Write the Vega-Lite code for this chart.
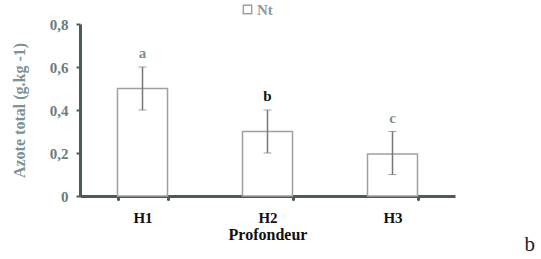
{
  "$schema": "https://vega.github.io/schema/vega-lite/v6.json",
  "autosize": "none",
  "width": 375,
  "height": 172,
  "padding": {"left": 80, "top": 24, "right": 86, "bottom": 63},
  "background": "white",
  "config": {"view": {"stroke": null}, "font": "serif"},
  "title": {"text": "b", "orient": "bottom", "anchor": "end", "frame": "group", "dx": 80, "offset": -8, "font": "serif", "fontSize": 21, "fontWeight": "normal", "color": "#222"},
  "data": {"values": [
    {"h": "H1", "nt": 0.5, "lo": 0.4, "hi": 0.6, "lettre": "a", "serie": "Nt"},
    {"h": "H2", "nt": 0.3, "lo": 0.2, "hi": 0.4, "lettre": "b", "serie": "Nt"},
    {"h": "H3", "nt": 0.195, "lo": 0.1, "hi": 0.3, "lettre": "c", "serie": "Nt"}
  ]},
  "encoding": {
    "x": {"field": "h", "type": "nominal", "scale": {"paddingInner": 0.6, "paddingOuter": 0.3}, "axis": {
      "title": "Profondeur", "labelAngle": 0, "domainColor": "#4b5c57", "domainWidth": 3, "tickBand": "extent", "tickColor": "#4b5c57", "tickWidth": 3, "tickSize": 3, "tickCap": "round",
      "labelFont": "serif", "labelFontWeight": "bold", "labelFontSize": 15, "labelColor": "#111", "labelPadding": 11,
      "titleFont": "serif", "titleFontWeight": "bold", "titleFontSize": 16, "titleColor": "#111", "titlePadding": 1
    }}
  },
  "layer": [
    {
      "mark": {"type": "bar", "fill": "white", "strokeWidth": 1.5},
      "encoding": {
        "y": {"field": "nt", "type": "quantitative", "title": "Azote total (g.kg -1)", "scale": {"domain": [0, 0.8]}, "axis": {
          "values": [0, 0.2, 0.4, 0.6, 0.8], "grid": false,
          "labelExpr": "datum.value == 0 ? '0' : replace(format(datum.value, '.1f'), '.', ',')",
          "domainColor": "#4b5c57", "domainWidth": 3, "tickColor": "#4b5c57", "tickWidth": 2, "tickSize": 4,
          "labelFont": "serif", "labelFontWeight": "bold", "labelFontSize": 15, "labelColor": "#6c7c7c", "labelPadding": 8,
          "titleFont": "serif", "titleFontWeight": "bold", "titleFontSize": 16, "titleColor": "#7d9297", "titlePadding": 22
        }},
        "stroke": {"field": "serie", "type": "nominal", "scale": {"range": ["#a0a0a0"]}, "legend": {
          "title": null, "orient": "none", "legendX": 160, "legendY": -22, "symbolType": "square", "symbolSize": 70, "symbolFillColor": "white", "symbolStrokeWidth": 1.5,
          "labelFont": "serif", "labelFontSize": 15, "labelFontWeight": "bold", "labelColor": "#8a9a9c", "labelOffset": 2
        }}
      }
    },
    {
      "mark": {"type": "errorbar", "ticks": {"size": 8, "color": "#777", "strokeWidth": 1.5}, "rule": {"color": "#777", "strokeWidth": 1.5}},
      "encoding": {
        "y": {"field": "lo", "type": "quantitative", "title": "Azote total (g.kg -1)"},
        "y2": {"field": "hi"}
      }
    },
    {
      "mark": {"type": "text", "dy": -14, "font": "serif", "fontSize": 15, "fontWeight": "bold"},
      "encoding": {
        "y": {"field": "hi", "type": "quantitative", "title": "Azote total (g.kg -1)"},
        "text": {"field": "lettre"},
        "color": {"field": "lettre", "type": "nominal", "scale": {"domain": ["a", "b", "c"], "range": ["#7a9096", "#111111", "#7a9096"]}, "legend": null}
      }
    }
  ]
}
